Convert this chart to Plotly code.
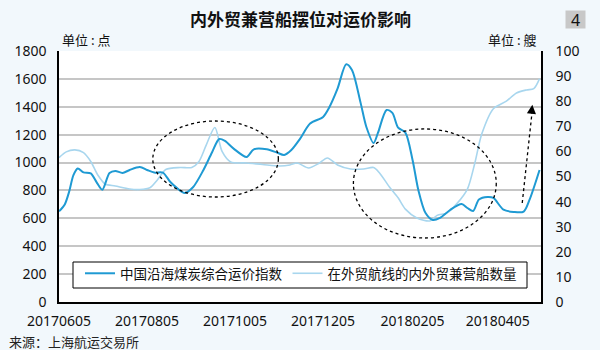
import pandas as pd
import plotly.graph_objects as go

# 中国沿海煤炭综合运价指数（点）
coal_dates = ["2017-06-05", "2017-06-09", "2017-06-12", "2017-06-15", "2017-06-18", "2017-06-22",
              "2017-06-27", "2017-07-01", "2017-07-05", "2017-07-10", "2017-07-14", "2017-07-19",
              "2017-07-24", "2017-07-31", "2017-08-05", "2017-08-10", "2017-08-16", "2017-08-21",
              "2017-08-26", "2017-08-31", "2017-09-06", "2017-09-13", "2017-09-19", "2017-09-24",
              "2017-09-28", "2017-10-04", "2017-10-13", "2017-10-18", "2017-10-27", "2017-11-03",
              "2017-11-08", "2017-11-13", "2017-11-19", "2017-11-26", "2017-12-05", "2017-12-09",
              "2017-12-15", "2017-12-21", "2017-12-25", "2017-12-31", "2018-01-04", "2018-01-09",
              "2018-01-12", "2018-01-18", "2018-01-22", "2018-01-26", "2018-01-31", "2018-02-05",
              "2018-02-09", "2018-02-14", "2018-02-19", "2018-02-24", "2018-03-03", "2018-03-11",
              "2018-03-15", "2018-03-19", "2018-03-23", "2018-03-29", "2018-04-02", "2018-04-09",
              "2018-04-16", "2018-04-23", "2018-04-27", "2018-05-04"]
coal_index = [650, 700, 790, 910, 958, 930,
              922, 860, 805, 925, 940, 925,
              947, 968, 947, 928, 928, 862,
              815, 782, 825, 945, 1072, 1169,
              1155, 1100, 1040, 1095, 1095, 1072,
              1055, 1090, 1170, 1280, 1327, 1390,
              1530, 1705, 1664, 1428, 1255, 1140,
              1212, 1377, 1356, 1250, 1215, 1019,
              803, 638, 588, 603, 660, 703,
              674, 653, 735, 753, 746, 662,
              646, 648, 732, 947]

# 在外贸航线的内外贸兼营船数量（艘）
ship_dates = ["2017-06-05", "2017-06-10", "2017-06-16", "2017-06-22", "2017-06-27", "2017-07-02",
              "2017-07-07", "2017-07-14", "2017-07-24", "2017-07-31", "2017-08-07", "2017-08-12",
              "2017-08-18", "2017-08-28", "2017-09-05", "2017-09-10", "2017-09-15", "2017-09-21",
              "2017-09-26", "2017-10-02", "2017-10-13", "2017-10-24", "2017-11-05", "2017-11-12",
              "2017-11-17", "2017-11-25", "2017-12-02", "2017-12-08", "2017-12-15", "2017-12-24",
              "2018-01-02", "2018-01-09", "2018-01-13", "2018-01-20", "2018-01-26", "2018-01-31",
              "2018-02-08", "2018-02-17", "2018-02-22", "2018-03-01", "2018-03-08", "2018-03-15",
              "2018-03-20", "2018-03-25", "2018-04-02", "2018-04-11", "2018-04-18", "2018-04-25",
              "2018-04-30", "2018-05-04"]
ship_count = [57.5, 59.8, 60.6, 59.5, 56, 50.5,
              47, 46.2, 45, 44.8, 45.5, 48.5,
              52.8, 53.6, 53.6, 56, 62.5, 69.5,
              60, 55.8, 55.4, 54.8, 54.2, 54.6,
              55.4, 53.4, 55.2, 57.4, 54.6, 53,
              53, 53.6, 51.5, 45.8, 41.5, 37,
              33.5, 32.3, 34.5, 35.5, 39.4, 45,
              55, 67, 77, 80, 83.3, 84.5,
              85, 89]

tick_dates = ["2017-06-05", "2017-08-05", "2017-10-05", "2017-12-05", "2018-02-05", "2018-04-05"]
tick_text = ["20170605", "20170805", "20171005", "20171205", "20180205", "20180405"]

DARK = "#1f9ad3"
LIGHT = "#a8d6ee"
CJK = "Noto Sans CJK SC"
NUM = "Noto Sans"

# plot area in pixels: x 59..541, y 51..302
def px(x):
    return (x - 59) / 482


def py(y):
    return (302 - y) / 251


fig = go.Figure()
fig.add_trace(go.Scatter(
    x=pd.to_datetime(ship_dates), y=ship_count, name="在外贸航线的内外贸兼营船数量",
    mode="lines", line=dict(color=LIGHT, width=1.6, shape="spline", smoothing=0.8),
    yaxis="y", legendrank=2))
fig.add_trace(go.Scatter(
    x=pd.to_datetime(coal_dates), y=coal_index, name="中国沿海煤炭综合运价指数",
    mode="lines", line=dict(color=DARK, width=2, shape="spline", smoothing=0.8),
    yaxis="y2", legendrank=1))

# dotted ellipses and trend arrow (left-axis units)
dot = dict(color="black", width=1.3, dash="dot")
fig.add_shape(type="circle", xref="x", yref="y2", x0="2017-08-09", x1="2017-11-04",
              y0=753, y1=1298, line=dot)
fig.add_shape(type="circle", xref="x", yref="y2", x0="2017-12-26", x1="2018-04-04",
              y0=459, y1=1241, line=dot)
fig.add_shape(type="line", xref="x", yref="y2", x0="2018-04-22", y0=710,
              x1="2018-04-29", y1=1380, line=dot)

# legend frame
fig.add_shape(type="rect", xref="paper", yref="paper", x0=px(73), x1=px(527), y0=py(288), y1=py(262),
              fillcolor="white", line=dict(color="black", width=1), layer="above")

annotations = [
    dict(x="2018-04-29", y=1415, xref="x", yref="y2", ax=-1, ay=10, axref="pixel", ayref="pixel",
         text="", showarrow=True, arrowhead=2, arrowsize=1.4, arrowwidth=1.3, arrowcolor="black"),
    dict(text="<b>内外贸兼营船摆位对运价影响</b>", x=0.5, y=py(19), xref="paper", yref="paper",
         xanchor="center", yanchor="middle", showarrow=False, font=dict(family=CJK, size=17, color="#111")),
    dict(text="4", x=px(575.5), y=py(19.5), xref="paper", yref="paper",
         xanchor="center", yanchor="middle", showarrow=False, bgcolor="#c8c8c8",
         width=19, height=17, borderpad=0, font=dict(family=NUM, size=16, color="#111")),
    dict(text="单位 : 点", x=px(60), y=py(39), xref="paper", yref="paper",
         xanchor="left", yanchor="middle", showarrow=False, font=dict(family=CJK, size=13, color="#111")),
    dict(text="单位 : 艘", x=px(538), y=py(39), xref="paper", yref="paper",
         xanchor="right", yanchor="middle", showarrow=False, font=dict(family=CJK, size=13, color="#111")),
    dict(text="来源：上海航运交易所", x=px(7), y=py(341), xref="paper", yref="paper",
         xanchor="left", yanchor="middle", showarrow=False, font=dict(family=CJK, size=13, color="#222")),
]

fig.update_layout(
    width=600, height=350,
    margin=dict(l=59, r=59, t=51, b=48),
    paper_bgcolor="#f2f8fc", plot_bgcolor="white",
    font=dict(family=NUM, size=14, color="#111"),
    showlegend=True,
    legend=dict(orientation="h", x=px(80), y=py(258), xanchor="left", yanchor="top",
                bgcolor="rgba(0,0,0,0)", borderwidth=0,
                font=dict(family=CJK, size=13.5, color="#111"), traceorder="normal"),
    xaxis=dict(type="date", range=["2017-06-05", "2018-05-05"], tickvals=tick_dates, ticktext=tick_text,
               showgrid=False, showline=True, linecolor="black", linewidth=1.5, ticks="",
               ticklabelstandoff=5, zeroline=False, tickfont=dict(family=NUM, size=14)),
    yaxis=dict(side="right", range=[0, 100], dtick=10, showgrid=False, showline=True,
               linecolor="black", linewidth=1.5, zeroline=False, ticks="", ticklabelstandoff=10,
               tickfont=dict(family=NUM, size=14)),
    yaxis2=dict(side="left", overlaying="y", range=[0, 1800], dtick=200, showgrid=True,
                gridcolor="#c6c6c6", gridwidth=1.5, showline=True, linecolor="black", linewidth=1.5,
                zeroline=False, ticks="", ticklabelstandoff=8, tickfont=dict(family=NUM, size=14)),
    annotations=annotations,
)

fig.write_html("out.html")
